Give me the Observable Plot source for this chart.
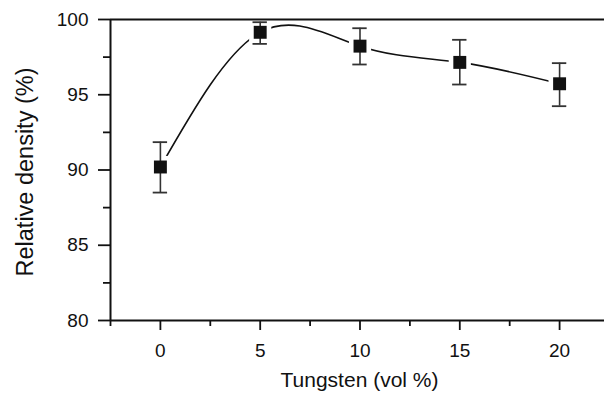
<!DOCTYPE html>
<html>
<head>
<meta charset="utf-8">
<script src="https://cdn.jsdelivr.net/npm/d3@7"></script>
<script src="https://cdn.jsdelivr.net/npm/@observablehq/plot@0.6"></script>
<style>
  html, body { margin: 0; padding: 0; background: #fff; overflow: hidden; }
  svg { display: block; }
</style>
</head>
<body>
<div id="chart"></div>
<script>
const tungsten = [0, 5, 10, 15, 20];
const density = [90.2, 99.15, 98.23, 97.15, 95.73];
const errLow = [88.5, 98.38, 97.01, 95.68, 94.24];
const errHigh = [91.85, 99.82, 99.42, 98.65, 97.1];
const xTicks = [0, 5, 10, 15, 20];
const xMinorTicks = [-2.5, 2.5, 7.5, 12.5, 17.5];
const yTicks = [80, 85, 90, 95, 100];
const yMinorTicks = [82.5, 87.5, 92.5, 97.5];

const data = tungsten.map((x, i) => ({x, y: density[i], lo: errLow[i], hi: errHigh[i]}));

const font = "'Liberation Sans', Arial, Helvetica, sans-serif";
const ink = "#111";
const capHalf = 0.36;

const chart = Plot.plot({
  width: 604,
  height: 393,
  marginLeft: 110,
  marginRight: 0,
  marginTop: 19,
  marginBottom: 73,
  style: {fontFamily: font, background: "#fff", color: ink},
  x: {domain: [-2.5, 22.25]},
  y: {domain: [80, 100]},
  marks: [
    // minor ticks
    Plot.axisX({ticks: xMinorTicks, tickSize: 6, tickFormat: () => "", strokeWidth: 1.8, stroke: ink, label: null}),
    Plot.axisY({ticks: yMinorTicks, tickSize: 7, tickFormat: () => "", strokeWidth: 1.8, stroke: ink, label: null}),
    // major ticks
    Plot.axisX({ticks: xTicks, tickSize: 10, tickPadding: 13, fontSize: 19, strokeWidth: 1.8, stroke: ink, fill: ink, label: null}),
    Plot.axisY({ticks: yTicks, tickSize: 12, tickPadding: 10, fontSize: 19, strokeWidth: 1.8, stroke: ink, fill: ink, label: null}),
    // axis lines
    Plot.ruleX([-2.5], {y1: 80, y2: 100, stroke: ink, strokeWidth: 2}),
    Plot.ruleY([80], {stroke: ink, strokeWidth: 2}),
    Plot.ruleY([100], {stroke: ink, strokeWidth: 2.2}),
    // curve
    Plot.line(data, {x: "x", y: "y", curve: "natural", stroke: ink, strokeWidth: 1.6}),
    // white halo around markers
    Plot.dot(data, {x: "x", y: "y", symbol: "square", r: 12.5, fill: "#fff", stroke: "none"}),
    // error bars
    Plot.ruleX(data, {x: "x", y1: "lo", y2: "hi", stroke: "#333", strokeWidth: 1.6}),
    Plot.ruleY(data, {y: "lo", x1: d => d.x - capHalf, x2: d => d.x + capHalf, stroke: "#333", strokeWidth: 1.8}),
    Plot.ruleY(data, {y: "hi", x1: d => d.x - capHalf, x2: d => d.x + capHalf, stroke: "#333", strokeWidth: 1.8}),
    // markers
    Plot.dot(data, {x: "x", y: "y", symbol: "square", r: 7.3, fill: ink, stroke: "none"}),
    // axis titles
    Plot.text(["Tungsten (vol %)"], {frameAnchor: "bottom", dx: 2, dy: 60, fontSize: 21, fill: ink, textAnchor: "middle", lineAnchor: "middle"}),
    Plot.text(["Relative density (%)"], {frameAnchor: "left", dx: -85, dy: 2, rotate: -90, fontSize: 23.5, fill: ink, textAnchor: "middle", lineAnchor: "middle"})
  ]
});
document.getElementById("chart").appendChild(chart);
</script>
</body>
</html>
